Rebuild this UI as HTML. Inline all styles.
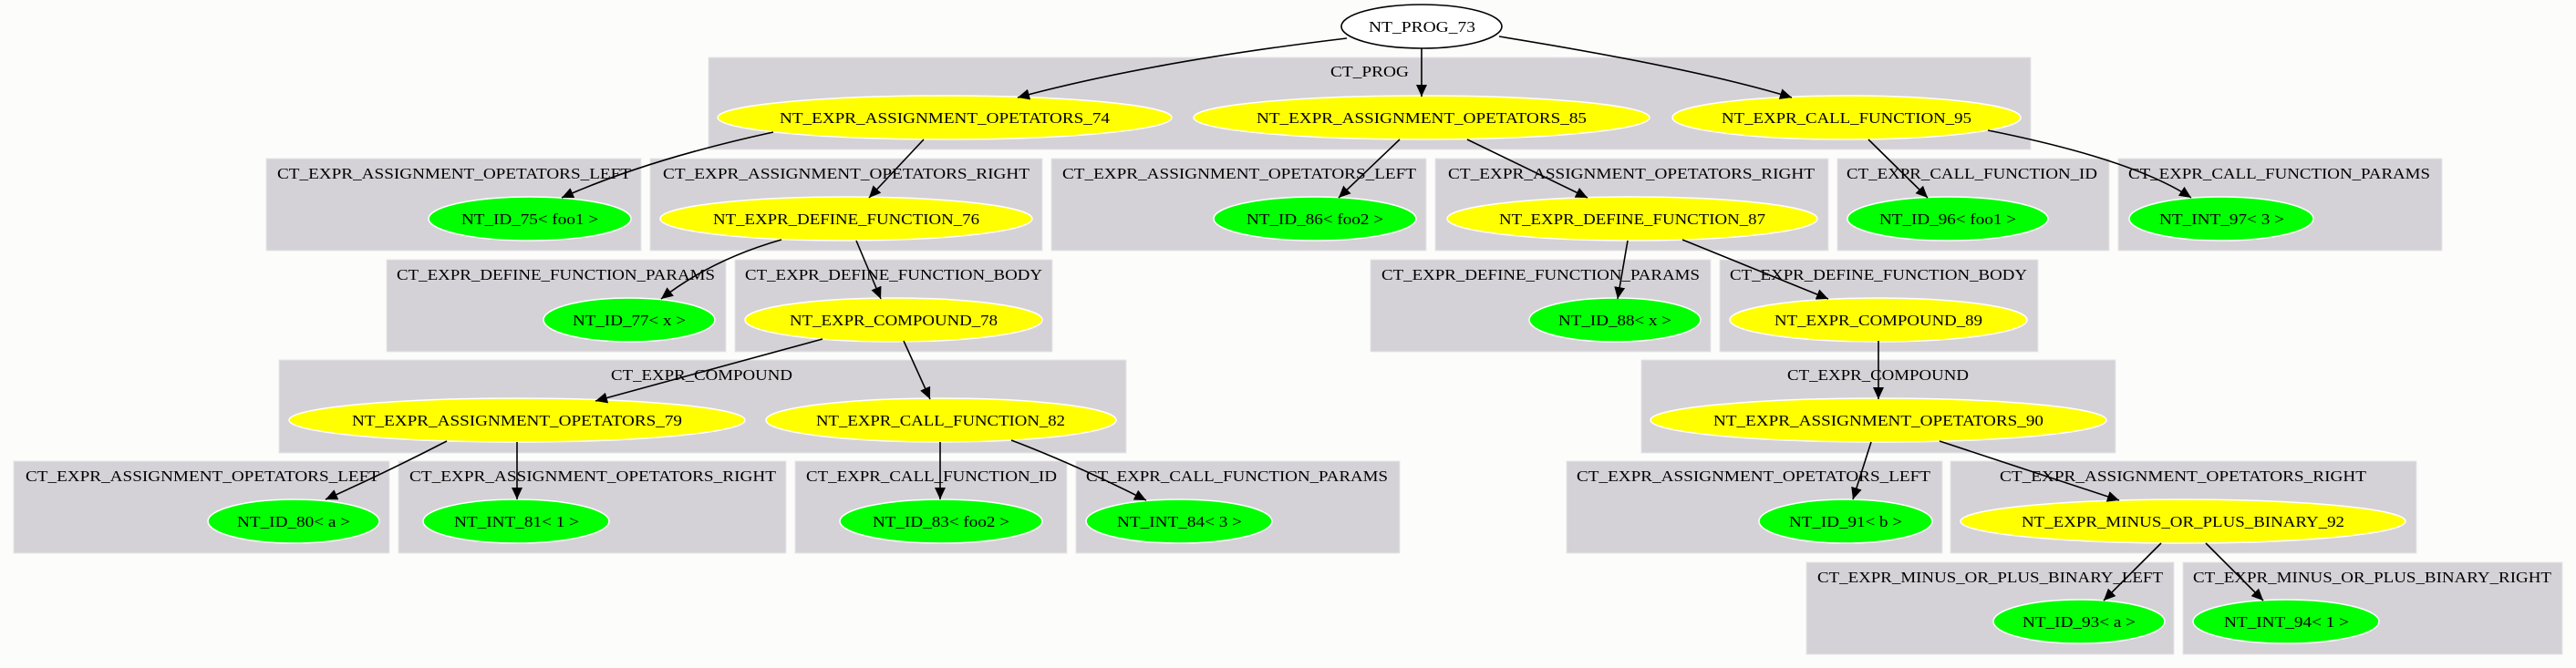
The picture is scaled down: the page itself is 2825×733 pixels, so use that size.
<!DOCTYPE html>
<html><head><meta charset="utf-8"><style>
html,body{margin:0;padding:0;background:#fcfdfb;}
svg{display:block;}
text{font-family:"Liberation Serif",serif;font-size:17px;fill:#000;}
.b{fill:#d4d2d6;stroke:#e6e5e8;stroke-width:1;}
.y{fill:#ffff00;stroke:#fff;stroke-width:1.5;}
.g{fill:#00ff00;stroke:#fff;stroke-width:1.5;}
.e{fill:none;stroke:#000;stroke-width:1.6;marker-end:url(#ah);}
</style></head><body>
<svg width="2825" height="733" viewBox="0 0 2825 733" xmlns="http://www.w3.org/2000/svg">
<defs><marker id="ah" markerUnits="userSpaceOnUse" markerWidth="14" markerHeight="12" refX="13" refY="6" orient="auto"><path d="M0,0 L13,6 L0,12 z" fill="#000"/></marker></defs>
<rect width="2825" height="733" fill="#fcfdfb"/>
<!-- clusters -->
<rect class="b" x="777" y="63" width="1450" height="101"/>
<text x="1459" y="84" textLength="86" lengthAdjust="spacingAndGlyphs">CT_PROG</text>
<rect class="b" x="292" y="174" width="411" height="101"/>
<text x="304" y="196" textLength="388" lengthAdjust="spacingAndGlyphs">CT_EXPR_ASSIGNMENT_OPETATORS_LEFT</text>
<rect class="b" x="713" y="174" width="430" height="101"/>
<text x="727" y="196" textLength="402" lengthAdjust="spacingAndGlyphs">CT_EXPR_ASSIGNMENT_OPETATORS_RIGHT</text>
<rect class="b" x="1153" y="174" width="411" height="101"/>
<text x="1165" y="196" textLength="388" lengthAdjust="spacingAndGlyphs">CT_EXPR_ASSIGNMENT_OPETATORS_LEFT</text>
<rect class="b" x="1574" y="174" width="431" height="101"/>
<text x="1588" y="196" textLength="402" lengthAdjust="spacingAndGlyphs">CT_EXPR_ASSIGNMENT_OPETATORS_RIGHT</text>
<rect class="b" x="2015" y="174" width="298" height="101"/>
<text x="2025" y="196" textLength="275" lengthAdjust="spacingAndGlyphs">CT_EXPR_CALL_FUNCTION_ID</text>
<rect class="b" x="2323" y="174" width="355" height="101"/>
<text x="2334" y="196" textLength="331" lengthAdjust="spacingAndGlyphs">CT_EXPR_CALL_FUNCTION_PARAMS</text>

<rect class="b" x="424" y="285" width="372" height="101"/>
<text x="435" y="307" textLength="349" lengthAdjust="spacingAndGlyphs">CT_EXPR_DEFINE_FUNCTION_PARAMS</text>
<rect class="b" x="806" y="285" width="348" height="101"/>
<text x="817" y="307" textLength="326" lengthAdjust="spacingAndGlyphs">CT_EXPR_DEFINE_FUNCTION_BODY</text>
<rect class="b" x="1503" y="285" width="373" height="101"/>
<text x="1515" y="307" textLength="349" lengthAdjust="spacingAndGlyphs">CT_EXPR_DEFINE_FUNCTION_PARAMS</text>
<rect class="b" x="1886" y="285" width="349" height="101"/>
<text x="1897" y="307" textLength="326" lengthAdjust="spacingAndGlyphs">CT_EXPR_DEFINE_FUNCTION_BODY</text>

<rect class="b" x="306" y="395" width="929" height="102"/>
<text x="670" y="417" textLength="199" lengthAdjust="spacingAndGlyphs">CT_EXPR_COMPOUND</text>
<rect class="b" x="1800" y="395" width="520" height="102"/>
<text x="1960" y="417" textLength="199" lengthAdjust="spacingAndGlyphs">CT_EXPR_COMPOUND</text>

<rect class="b" x="15" y="506" width="412" height="101"/>
<text x="28" y="528" textLength="388" lengthAdjust="spacingAndGlyphs">CT_EXPR_ASSIGNMENT_OPETATORS_LEFT</text>
<rect class="b" x="437" y="506" width="425" height="101"/>
<text x="449" y="528" textLength="402" lengthAdjust="spacingAndGlyphs">CT_EXPR_ASSIGNMENT_OPETATORS_RIGHT</text>
<rect class="b" x="872" y="506" width="298" height="101"/>
<text x="884" y="528" textLength="275" lengthAdjust="spacingAndGlyphs">CT_EXPR_CALL_FUNCTION_ID</text>
<rect class="b" x="1180" y="506" width="355" height="101"/>
<text x="1191" y="528" textLength="331" lengthAdjust="spacingAndGlyphs">CT_EXPR_CALL_FUNCTION_PARAMS</text>
<rect class="b" x="1718" y="506" width="412" height="101"/>
<text x="1729" y="528" textLength="388" lengthAdjust="spacingAndGlyphs">CT_EXPR_ASSIGNMENT_OPETATORS_LEFT</text>
<rect class="b" x="2139" y="506" width="511" height="101"/>
<text x="2193" y="528" textLength="402" lengthAdjust="spacingAndGlyphs">CT_EXPR_ASSIGNMENT_OPETATORS_RIGHT</text>

<rect class="b" x="1981" y="617" width="403" height="101"/>
<text x="1993" y="639" textLength="379" lengthAdjust="spacingAndGlyphs">CT_EXPR_MINUS_OR_PLUS_BINARY_LEFT</text>
<rect class="b" x="2394" y="617" width="416" height="101"/>
<text x="2405" y="639" textLength="393" lengthAdjust="spacingAndGlyphs">CT_EXPR_MINUS_OR_PLUS_BINARY_RIGHT</text>

<!-- nodes -->
<ellipse cx="1559" cy="29" rx="88" ry="24" fill="#fff" stroke="#000" stroke-width="1.6"/>
<text x="1501" y="35" textLength="117" lengthAdjust="spacingAndGlyphs">NT_PROG_73</text>

<ellipse class="y" cx="1036" cy="129" rx="249" ry="24"/>
<text x="855" y="135" textLength="362" lengthAdjust="spacingAndGlyphs">NT_EXPR_ASSIGNMENT_OPETATORS_74</text>
<ellipse class="y" cx="1559" cy="129" rx="250" ry="24"/>
<text x="1378" y="135" textLength="362" lengthAdjust="spacingAndGlyphs">NT_EXPR_ASSIGNMENT_OPETATORS_85</text>
<ellipse class="y" cx="2025" cy="129" rx="191" ry="24"/>
<text x="1888" y="135" textLength="274" lengthAdjust="spacingAndGlyphs">NT_EXPR_CALL_FUNCTION_95</text>

<ellipse class="g" cx="581" cy="240" rx="111" ry="24"/>
<text x="506" y="246" textLength="150" lengthAdjust="spacingAndGlyphs">NT_ID_75&lt; foo1 &gt;</text>
<ellipse class="y" cx="928" cy="240" rx="204" ry="24"/>
<text x="782" y="246" textLength="292" lengthAdjust="spacingAndGlyphs">NT_EXPR_DEFINE_FUNCTION_76</text>
<ellipse class="g" cx="1442" cy="240" rx="111" ry="24"/>
<text x="1367" y="246" textLength="150" lengthAdjust="spacingAndGlyphs">NT_ID_86&lt; foo2 &gt;</text>
<ellipse class="y" cx="1790" cy="240" rx="203" ry="24"/>
<text x="1644" y="246" textLength="292" lengthAdjust="spacingAndGlyphs">NT_EXPR_DEFINE_FUNCTION_87</text>
<ellipse class="g" cx="2136" cy="240" rx="110" ry="24"/>
<text x="2061" y="246" textLength="150" lengthAdjust="spacingAndGlyphs">NT_ID_96&lt; foo1 &gt;</text>
<ellipse class="g" cx="2436" cy="240" rx="101" ry="24"/>
<text x="2368" y="246" textLength="137" lengthAdjust="spacingAndGlyphs">NT_INT_97&lt; 3 &gt;</text>

<ellipse class="g" cx="690" cy="351" rx="94" ry="24"/>
<text x="628" y="357" textLength="124" lengthAdjust="spacingAndGlyphs">NT_ID_77&lt; x &gt;</text>
<ellipse class="y" cx="980" cy="351" rx="163" ry="24"/>
<text x="866" y="357" textLength="228" lengthAdjust="spacingAndGlyphs">NT_EXPR_COMPOUND_78</text>
<ellipse class="g" cx="1771" cy="351" rx="94" ry="24"/>
<text x="1709" y="357" textLength="124" lengthAdjust="spacingAndGlyphs">NT_ID_88&lt; x &gt;</text>
<ellipse class="y" cx="2060" cy="351" rx="163" ry="24"/>
<text x="1946" y="357" textLength="228" lengthAdjust="spacingAndGlyphs">NT_EXPR_COMPOUND_89</text>

<ellipse class="y" cx="567" cy="461" rx="250" ry="24"/>
<text x="386" y="467" textLength="362" lengthAdjust="spacingAndGlyphs">NT_EXPR_ASSIGNMENT_OPETATORS_79</text>
<ellipse class="y" cx="1032" cy="461" rx="192" ry="24"/>
<text x="895" y="467" textLength="273" lengthAdjust="spacingAndGlyphs">NT_EXPR_CALL_FUNCTION_82</text>
<ellipse class="y" cx="2060" cy="461" rx="250" ry="24"/>
<text x="1879" y="467" textLength="362" lengthAdjust="spacingAndGlyphs">NT_EXPR_ASSIGNMENT_OPETATORS_90</text>

<ellipse class="g" cx="322" cy="572" rx="94" ry="24"/>
<text x="260" y="578" textLength="124" lengthAdjust="spacingAndGlyphs">NT_ID_80&lt; a &gt;</text>
<ellipse class="g" cx="566" cy="572" rx="102" ry="24"/>
<text x="498" y="578" textLength="137" lengthAdjust="spacingAndGlyphs">NT_INT_81&lt; 1 &gt;</text>
<ellipse class="g" cx="1032" cy="572" rx="111" ry="24"/>
<text x="957" y="578" textLength="150" lengthAdjust="spacingAndGlyphs">NT_ID_83&lt; foo2 &gt;</text>
<ellipse class="g" cx="1293" cy="572" rx="102" ry="24"/>
<text x="1225" y="578" textLength="137" lengthAdjust="spacingAndGlyphs">NT_INT_84&lt; 3 &gt;</text>
<ellipse class="g" cx="2024" cy="572" rx="95" ry="24"/>
<text x="1962" y="578" textLength="124" lengthAdjust="spacingAndGlyphs">NT_ID_91&lt; b &gt;</text>
<ellipse class="y" cx="2394" cy="572" rx="244" ry="24"/>
<text x="2217" y="578" textLength="354" lengthAdjust="spacingAndGlyphs">NT_EXPR_MINUS_OR_PLUS_BINARY_92</text>

<ellipse class="g" cx="2280" cy="682" rx="94" ry="24"/>
<text x="2218" y="688" textLength="124" lengthAdjust="spacingAndGlyphs">NT_ID_93&lt; a &gt;</text>
<ellipse class="g" cx="2507" cy="682" rx="102" ry="24"/>
<text x="2439" y="688" textLength="137" lengthAdjust="spacingAndGlyphs">NT_INT_94&lt; 1 &gt;</text>

<!-- edges -->
<path class="e" d="M1477,42 Q1260,68 1116,107"/>
<path class="e" d="M1559,53 L1559,106"/>
<path class="e" d="M1644,40 Q1860,75 1965,107"/>
<path class="e" d="M848,145 Q710,175 616,217"/>
<path class="e" d="M1013,153 L953,217"/>
<path class="e" d="M1535,153 L1468,217"/>
<path class="e" d="M1609,153 L1741,217"/>
<path class="e" d="M2049,153 L2114,217"/>
<path class="e" d="M2180,143 Q2340,175 2403,217"/>
<path class="e" d="M857,263 Q780,285 725,328"/>
<path class="e" d="M939,264 L966,328"/>
<path class="e" d="M1785,264 L1774,328"/>
<path class="e" d="M1845,263 L2005,328"/>
<path class="e" d="M902,372 L653,440"/>
<path class="e" d="M991,374 L1020,438"/>
<path class="e" d="M2060,374 L2060,438"/>
<path class="e" d="M490,484 Q420,520 357,548"/>
<path class="e" d="M567,485 L567,548"/>
<path class="e" d="M1031,485 L1031,548"/>
<path class="e" d="M1109,483 Q1180,510 1257,549"/>
<path class="e" d="M2052,485 L2032,548"/>
<path class="e" d="M2127,484 L2324,549"/>
<path class="e" d="M2370,596 L2307,659"/>
<path class="e" d="M2419,596 L2482,659"/>
</svg>
</body></html>
